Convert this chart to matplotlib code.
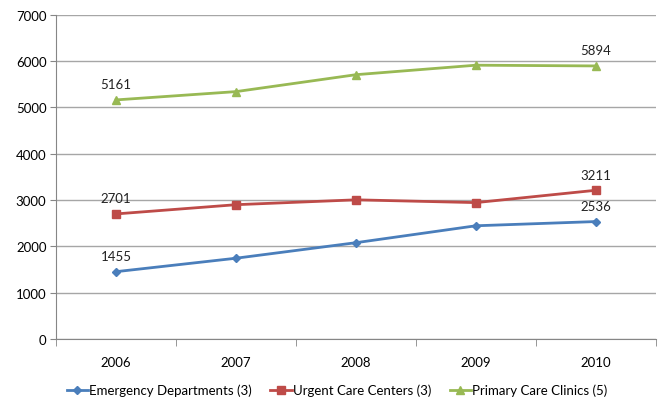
import matplotlib.pyplot as plt
import numpy as np

plt.rcParams['font.family'] = ['Lato', 'DejaVu Sans']

years = ['2006', '2007', '2008', '2009', '2010']
emergency = [1455, 1745, 2080, 2445, 2536]
urgent = [2701, 2900, 3005, 2945, 3211]
primary = [5161, 5340, 5705, 5910, 5894]

series = [
    ('Emergency Departments (3)', emergency, '#4A7EBB', 'D', 4),
    ('Urgent Care Centers (3)', urgent, '#BE4B48', 's', 6),
    ('Primary Care Clinics (5)', primary, '#98B954', '^', 6),
]

fig = plt.figure(figsize=(6.61, 4.02), dpi=100)
ax = fig.add_axes([0.085, 0.154, 0.907, 0.807])
x = np.arange(len(years))

for name, vals, color, marker, ms in series:
    ax.plot(x, vals, color=color, lw=2, marker=marker, markersize=ms,
            markeredgecolor=color, label=name, zorder=3)
    # value labels on the first and last point
    for i in (0, len(vals) - 1):
        ax.annotate(str(vals[i]), (x[i], vals[i]), xytext=(0, 7),
                    textcoords='offset points', ha='center', va='bottom',
                    fontsize=9.5, color='#222222')

ax.set_xlim(-0.5, len(years) - 0.5)
ax.set_ylim(0, 7000)
ax.set_yticks(range(0, 7001, 1000))
ax.yaxis.grid(True, color='#a6a6a6', lw=1)
ax.set_axisbelow(True)

ax.set_xticks(x)
ax.set_xticklabels(years)
ax.set_xticks(np.arange(-0.5, len(years)), minor=True)
ax.tick_params(axis='x', which='major', length=0, pad=12, labelsize=9.5)
ax.tick_params(axis='x', which='minor', length=5, color='#868686')
ax.tick_params(axis='y', length=4, color='#868686', labelsize=9.5, pad=3)

for side in ('top', 'right'):
    ax.spines[side].set_visible(False)
for side in ('left', 'bottom'):
    ax.spines[side].set_color('#868686')

fig.legend(*ax.get_legend_handles_labels(), loc='center',
           bbox_to_anchor=(0.51, 0.027), ncol=3, frameon=False,
           fontsize=9.5, handlelength=1.6, handletextpad=0.1,
           columnspacing=1.4, borderpad=0)

fig.savefig('out.png', dpi=100)
